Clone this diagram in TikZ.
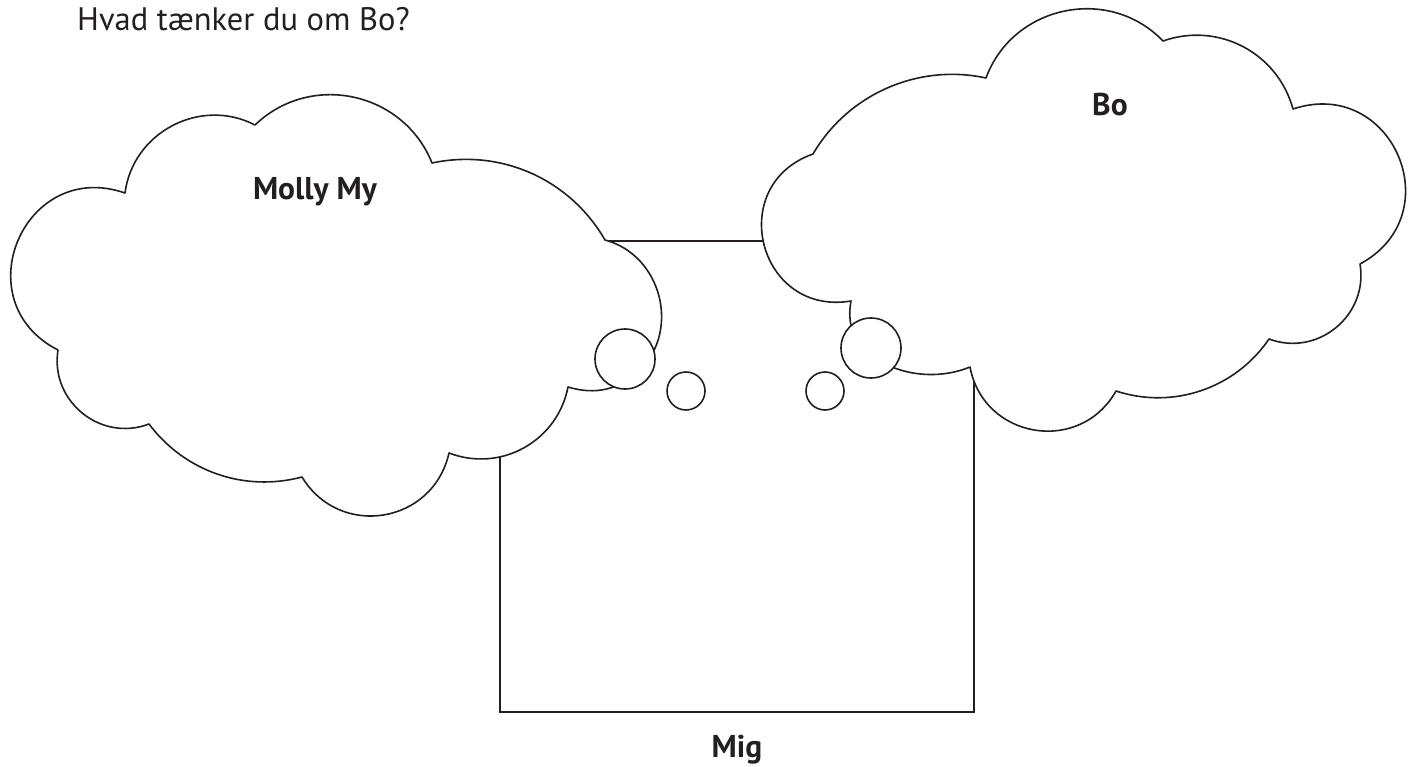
\documentclass[tikz,border=0pt]{standalone}
\usepackage{fontspec}
\setmainfont{PT Sans}
\usepackage{tikz}
\usetikzlibrary{positioning}
\definecolor{ink}{HTML}{231F20}

\tikzset{
  cloudline/.style={draw=ink,line width=1.6pt,line join=round,fill=white},
  bubble/.style={circle,draw=ink,line width=1.6pt,fill=white,inner sep=0pt},
  plaintext/.style={text=ink,inner sep=0pt,font=\fontsize{32.5}{38}\selectfont},
  whotext/.style={plaintext,font=\fontsize{31.5}{36}\selectfont\bfseries}
}

\begin{document}
\begin{tikzpicture}[x=1pt,y=1pt]
        \useasboundingbox (0,0) rectangle (1421,-767);
        \node[plaintext,anchor=base west] (question) at (77,-31) {Hvad tænker du om Bo?};

        % the box for me
        \draw[draw=ink,line width=1.6pt] (500,-241) coordinate (boxtl) rectangle (974,-712) coordinate (boxbr);
        \node[whotext,anchor=base] (me) at (737,-757) {Mig};

        % left cloud
        \draw[cloudline] (125,-193) to[bend left=55,looseness=1.07] (255,-125)
          to[bend left=56,looseness=1.09] (432,-163)
          to[bend left=36,looseness=0.95] (605,-240)
          to[bend left=60,looseness=1.1] (640,-370)
          to[bend left=30] (568,-387)
          to[bend left=50,looseness=1.04] (449,-453)
          to[bend left=68,looseness=1.25] (302,-477)
          to[bend left=34,looseness=0.94] (149,-424)
          to[bend left=60,looseness=1.13] (58,-350)
          to[bend left=86,looseness=1.6] (125,-193) -- cycle;
        \node[whotext,anchor=base] (molly) at (315,-200) {Molly My};

        % right cloud
        \draw[cloudline] (813,-154) to[bend left=36,looseness=0.94] (986,-78)
          to[bend left=58,looseness=1.1] (1163,-41)
          to[bend left=47,looseness=1.02] (1293,-109)
          to[bend left=85,looseness=1.58] (1360,-264)
          to[bend left=60,looseness=1.13] (1269,-339)
          to[bend left=37,looseness=0.95] (1116,-391)
          to[bend left=70,looseness=1.27] (970,-367)
          to[bend left=29,looseness=0.9] (870,-355)
          to[bend left=30] (851,-301)
          to[bend left=85,looseness=1.58] (813,-154) -- cycle;
        \node[whotext,anchor=base] (bo) at (1110,-116) {Bo};

        % thought bubbles
        \node[bubble,minimum size=60pt] (bigleft) at (625,-359) {};
        \node[bubble,minimum size=38pt] (smallleft) at (686,-391) {};
        \node[bubble,minimum size=38pt] (smallright) at (825,-391) {};
        \node[bubble,minimum size=60pt] (bigright) at (871,-348) {};
\end{tikzpicture}
\end{document}
